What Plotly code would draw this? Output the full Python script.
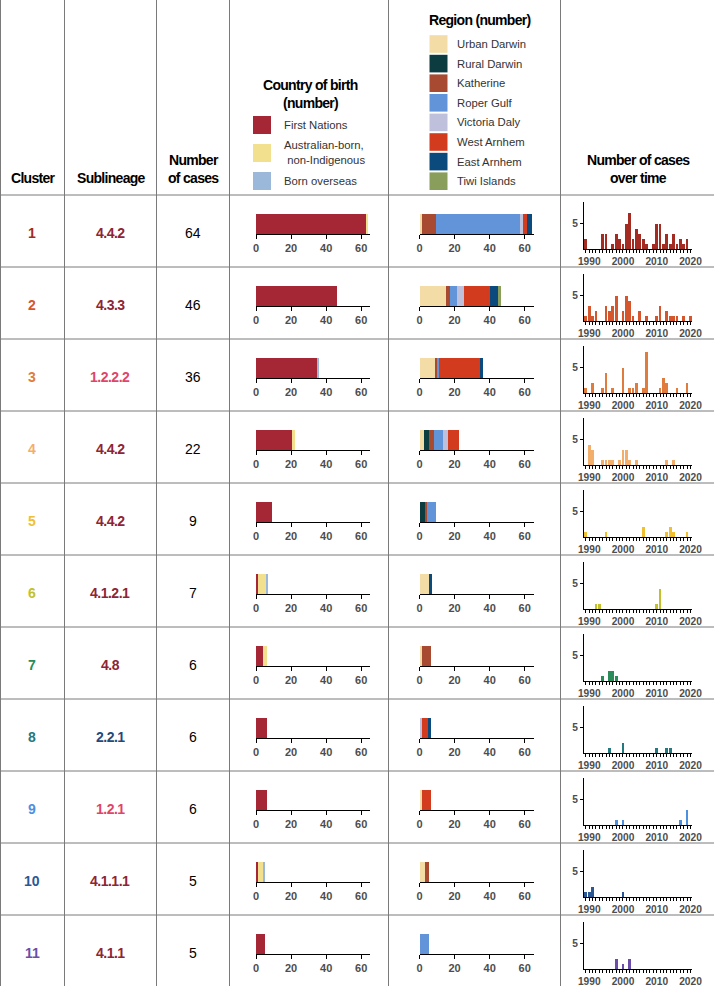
import plotly.graph_objects as go

W, H = 714, 986

# ---------------- data ----------------
clusters = ["1", "2", "3", "4", "5", "6", "7", "8", "9", "10", "11"]
sublineages = ["4.4.2", "4.3.3", "1.2.2.2", "4.4.2", "4.4.2", "4.1.2.1", "4.8", "2.2.1", "1.2.1", "4.1.1.1", "4.1.1"]
n_cases = [64, 46, 36, 22, 9, 7, 6, 6, 6, 5, 5]
cluster_colors = ["#A32B22", "#D5562C", "#E07C3E", "#F3AE6C", "#F0C033", "#C2C12D",
                  "#2A8C58", "#23797D", "#4B91DF", "#2B5895", "#6A4EA9"]
sublineage_colors = ["#8E2434", "#8E2434", "#E04468", "#8E2434", "#8E2434", "#8E2434",
                     "#8E2434", "#1E4A7C", "#E04468", "#8E2434", "#8E2434"]

birth_labels = ["First Nations", "Australian-born,<br> non-Indigenous", "Born overseas"]
birth_colors = ["#A52735", "#F2E08E", "#9BB7D9"]
first_nations = [63, 46, 35, 21, 9, 1, 4, 6, 6, 1, 5]
aus_born = [1, 0, 0, 1, 0, 5, 2, 0, 0, 3, 0]
born_overseas = [0, 0, 1, 0, 0, 1, 0, 0, 0, 1, 0]

region_labels = ["Urban Darwin", "Rural Darwin", "Katherine", "Roper Gulf",
                 "Victoria Daly", "West Arnhem", "East Arnhem", "Tiwi Islands"]
region_colors = ["#F3DCA6", "#0C3B40", "#A84A32", "#6294DA", "#BFC0DC", "#D33B1F", "#0B4A7D", "#8A9E5B"]
urban_darwin = [1, 15, 9, 2, 0, 5, 1, 0, 1, 3, 0]
rural_darwin = [0, 0, 0, 3, 3, 0, 0, 0, 0, 0, 0]
katherine = [8, 2, 1, 3, 1, 0, 5, 0, 0, 2, 0]
roper_gulf = [48, 4, 1, 5, 5, 0, 0, 0, 0, 0, 5]
victoria_daly = [2, 4, 0, 3, 0, 0, 0, 1, 0, 0, 0]
west_arnhem = [2, 15, 23, 6, 0, 0, 0, 4, 5, 0, 0]
east_arnhem = [3, 5, 2, 0, 0, 2, 0, 1, 0, 0, 0]
tiwi_islands = [0, 1, 0, 0, 0, 0, 0, 0, 0, 0, 0]

years = list(range(1989, 2021))
cases_c1 = [2,0,0,0,0,3,3,0,1,3,2,1,5,7,2,4,3,2,1,0,1,5,5,1,3,1,3,1,2,1,2,0]
cases_c2 = [1,3,1,2,0,0,3,2,3,5,0,2,5,4,1,0,2,0,1,0,0,1,3,0,2,1,1,1,0,1,0,1]
cases_c3 = [1,0,2,0,0,1,4,0,1,0,0,5,0,1,1,2,0,1,8,0,0,0,1,3,2,0,0,1,0,0,2,0]
cases_c4 = [0,4,3,0,0,1,1,1,1,0,1,3,3,1,0,1,0,0,0,0,0,0,0,0,1,0,1,0,0,0,0,0]
cases_c5 = [1,0,0,0,0,0,1,0,0,0,0,0,0,0,0,0,0,2,0,0,0,0,0,0,1,2,1,0,0,0,1,0]
cases_c6 = [0,0,0,1,1,0,0,0,0,0,0,0,0,0,0,0,0,0,0,0,0,1,4,0,0,0,0,0,0,0,0,0]
cases_c7 = [0,0,0,0,0,1,0,2,2,1,0,0,0,0,0,0,0,0,0,0,0,0,0,0,0,0,0,0,0,0,0,0]
cases_c8 = [0,0,0,0,0,0,0,1,0,0,0,2,0,0,0,0,0,0,0,0,0,1,0,0,1,1,0,0,0,0,0,0]
cases_c9 = [0,0,0,0,0,0,0,0,0,1,0,1,0,0,0,0,0,0,0,0,0,0,0,0,0,0,0,0,1,0,3,0]
cases_c10 = [1,1,2,0,0,0,0,0,0,0,0,1,0,0,0,0,0,0,0,0,0,0,0,0,0,0,0,0,0,0,0,0]
cases_c11 = [0,0,0,0,0,0,0,0,0,2,0,1,0,2,0,0,0,0,0,0,0,0,0,0,0,0,0,0,0,0,0,0]

time_ticks = [1990, 2000, 2010, 2020]
count_ticks = [0, 20, 40, 60]

# ---------------- helpers ----------------
FONT = "Liberation Sans, Arial, sans-serif"
TICKFONT = dict(family=FONT, size=11, color="#4d4d4d", weight="bold")
TIMEFONT = dict(family=FONT, size=10.2, color="#4d4d4d", weight="bold")


def px(x):
    return x / W


def py(y):
    return 1 - y / H


def axkey(k, a):
    return f"{a}axis" if k == 1 else f"{a}axis{k}"


def ref(k, a):
    return a if k == 1 else f"{a}{k}"


birth_series = [first_nations, aus_born, born_overseas]
region_series = [urban_darwin, rural_darwin, katherine, roper_gulf,
                 victoria_daly, west_arnhem, east_arnhem, tiwi_islands]
time_series = [cases_c1, cases_c2, cases_c3, cases_c4, cases_c5, cases_c6,
               cases_c7, cases_c8, cases_c9, cases_c10, cases_c11]

fig = go.Figure()
layout = dict(width=W, height=H, autosize=False,
              margin=dict(l=0, r=0, t=0, b=0, pad=0, autoexpand=False),
              barmode="stack", bargap=0, showlegend=False,
              plot_bgcolor="white", paper_bgcolor="white", font=dict(family=FONT))
annotations = []
shapes = []

ROW0, ROWH = 195, 72

for r in range(len(clusters)):
    top = ROW0 + ROWH * r
    k1, k2, k3 = 3 * r + 1, 3 * r + 2, 3 * r + 3

    # country of birth stacked bar
    for s, vals in enumerate(birth_series):
        fig.add_trace(go.Bar(x=[vals[r]], y=[0], orientation="h", width=1,
                             marker=dict(color=birth_colors[s], line=dict(width=0)),
                             xaxis=ref(k1, "x"), yaxis=ref(k1, "y"), hoverinfo="x"))
    # region stacked bar
    for s, vals in enumerate(region_series):
        fig.add_trace(go.Bar(x=[vals[r]], y=[0], orientation="h", width=1,
                             marker=dict(color=region_colors[s], line=dict(width=0)),
                             xaxis=ref(k2, "x"), yaxis=ref(k2, "y"), hoverinfo="x"))
    # time series
    fig.add_trace(go.Bar(x=years, y=time_series[r], width=0.82,
                         marker=dict(color=cluster_colors[r], line=dict(width=0)),
                         xaxis=ref(k3, "x"), yaxis=ref(k3, "y")))

    for k, x0, x1 in [(k1, 256, 370), (k2, 419.5, 533.5)]:
        layout[axkey(k, "x")] = dict(domain=[px(x0), px(x1)], range=[0, 65], anchor=ref(k, "y"),
                                     showline=True, linecolor="black", linewidth=1.3,
                                     ticks="outside", ticklen=4, tickcolor="black", tickwidth=1,
                                     tickmode="array", tickvals=count_ticks, tickfont=TICKFONT,
                                     showgrid=False, zeroline=False, fixedrange=True, automargin=False)
        layout[axkey(k, "y")] = dict(domain=[py(top + 39), py(top + 19)], range=[-0.5, 0.5],
                                     anchor=ref(k, "x"), visible=False, fixedrange=True, automargin=False)

    layout[axkey(k3, "x")] = dict(domain=[px(584), px(692)], range=[1988.45, 2020.45],
                                  anchor=ref(k3, "y"), showline=True, linecolor="black", linewidth=1.2,
                                  tickmode="array", tickvals=time_ticks,
                                  ticks="outside", ticklen=3, tickcolor="black", tickwidth=1,
                                  minor=dict(tickmode="array", tickvals=years, ticks="outside", ticklen=3,
                                             tickcolor="black", tickwidth=0.8),
                                  tickfont=TIMEFONT, showgrid=False, zeroline=False, fixedrange=True,
                                  automargin=False)
    layout[axkey(k3, "y")] = dict(domain=[py(top + 54), py(top + 6.5)], range=[0, 9.2],
                                  anchor=ref(k3, "x"), showline=True, linecolor="black", linewidth=1.2,
                                  tickmode="array", tickvals=[5], ticks="outside", ticklen=3,
                                  tickcolor="black", tickfont=TIMEFONT, showgrid=False,
                                  zeroline=False, fixedrange=True, automargin=False)

    # row texts
    yc = py(top + 38)
    annotations.append(dict(x=px(32), y=yc, xref="paper", yref="paper", showarrow=False,
                            text=clusters[r], xanchor="center", yanchor="middle",
                            font=dict(family=FONT, size=14, color=cluster_colors[r], weight="bold")))
    annotations.append(dict(x=px(110), y=yc, xref="paper", yref="paper", showarrow=False,
                            text=f'<span style="letter-spacing:-0.5px">{sublineages[r]}</span>',
                            xanchor="center", yanchor="middle",
                            font=dict(family=FONT, size=14, color=sublineage_colors[r], weight="bold")))
    annotations.append(dict(x=px(193), y=yc, xref="paper", yref="paper", showarrow=False,
                            text=str(n_cases[r]), xanchor="center", yanchor="middle",
                            font=dict(family=FONT, size=14, color="black")))

# ---------------- headers ----------------
HEAD = dict(family=FONT, size=14, color="black", weight="bold")


def head(x, y, txt):
    annotations.append(dict(x=px(x), y=py(y), xref="paper", yref="paper", showarrow=False,
                            text=f'<span style="letter-spacing:-0.7px">{txt}</span>',
                            xanchor="center", yanchor="middle", font=HEAD))


head(33, 178, "Cluster")
head(111, 178, "Sublineage")
head(194, 160, "Number")
head(194, 178, "of cases")
head(310, 85, "Country of birth")
head(310, 103, "(number)")
head(480, 20, "Region (number)")
head(638, 160, "Number of cases")
head(638, 178, "over time")

LEG = dict(family=FONT, size=11.3, color="#333333")
birth_leg_y = [125, 153, 181]
for i, lab in enumerate(birth_labels):
    yc = birth_leg_y[i]
    shapes.append(dict(type="rect", xref="paper", yref="paper", x0=px(253), x1=px(271),
                       y0=py(yc + 9), y1=py(yc - 9), fillcolor=birth_colors[i], line=dict(width=0)))
    annotations.append(dict(x=px(282), y=py(yc), xref="paper", yref="paper", showarrow=False,
                            text=lab, xanchor="left", yanchor="middle", align="left", font=LEG))

for i, lab in enumerate(region_labels):
    yc = 44 + 19.6 * i
    shapes.append(dict(type="rect", xref="paper", yref="paper", x0=px(429.5), x1=px(447.5),
                       y0=py(yc + 8.8), y1=py(yc - 8.8), fillcolor=region_colors[i], line=dict(width=0)))
    annotations.append(dict(x=px(455), y=py(yc), xref="paper", yref="paper", showarrow=False,
                            text=lab, xanchor="left", yanchor="middle", font=LEG))

# ---------------- table lines ----------------
LINE = dict(color="#7a7a7a", width=1)
for xv in [0.5, 64.5, 156.5, 229.5, 388.5, 560.5]:
    shapes.append(dict(type="line", xref="paper", yref="paper", x0=px(xv), x1=px(xv),
                       y0=0, y1=1, line=LINE, layer="below"))
for r in range(len(clusters)):
    yv = ROW0 + ROWH * r
    shapes.append(dict(type="line", xref="paper", yref="paper", x0=0, x1=1,
                       y0=py(yv), y1=py(yv), line=LINE, layer="below"))

layout["annotations"] = annotations
layout["shapes"] = shapes
fig.update_layout(**layout)

reset = ("var s=document.createElement('style');"
         "s.textContent='html,body{margin:0!important;padding:0!important;overflow:hidden!important;}"
         ".plotly-graph-div{position:absolute!important;left:0!important;top:0!important;}';"
         "document.head.appendChild(s);")
fig.write_html("out.html", config={"displayModeBar": False, "responsive": False},
               post_script=reset)
